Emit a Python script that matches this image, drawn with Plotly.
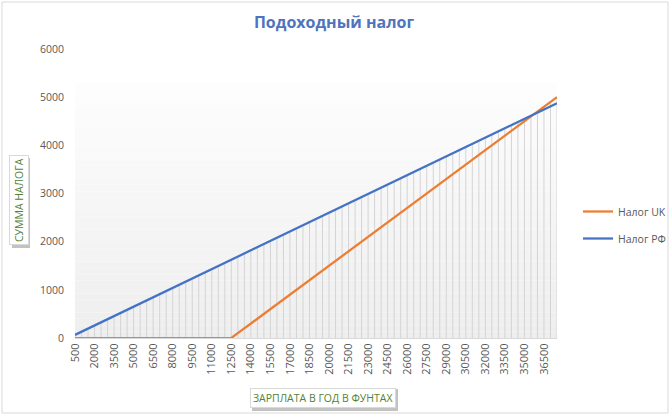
import plotly.graph_objects as go

salary = [500, 1000, 1500, 2000, 2500, 3000, 3500, 4000, 4500, 5000,
          5500, 6000, 6500, 7000, 7500, 8000, 8500, 9000, 9500, 10000,
          10500, 11000, 11500, 12000, 12500, 13000, 13500, 14000, 14500, 15000,
          15500, 16000, 16500, 17000, 17500, 18000, 18500, 19000, 19500, 20000,
          20500, 21000, 21500, 22000, 22500, 23000, 23500, 24000, 24500, 25000,
          25500, 26000, 26500, 27000, 27500, 28000, 28500, 29000, 29500, 30000,
          30500, 31000, 31500, 32000, 32500, 33000, 33500, 34000, 34500, 35000,
          35500, 36000, 36500, 37000, 37500]

tax_uk = [0, 0, 0, 0, 0, 0, 0, 0, 0, 0,
          0, 0, 0, 0, 0, 0, 0, 0, 0, 0,
          0, 0, 0, 0, 0, 100, 200, 300, 400, 500,
          600, 700, 800, 900, 1000, 1100, 1200, 1300, 1400, 1500,
          1600, 1700, 1800, 1900, 2000, 2100, 2200, 2300, 2400, 2500,
          2600, 2700, 2800, 2900, 3000, 3100, 3200, 3300, 3400, 3500,
          3600, 3700, 3800, 3900, 4000, 4100, 4200, 4300, 4400, 4500,
          4600, 4700, 4800, 4900, 5000]

tax_rf = [65, 130, 195, 260, 325, 390, 455, 520, 585, 650,
          715, 780, 845, 910, 975, 1040, 1105, 1170, 1235, 1300,
          1365, 1430, 1495, 1560, 1625, 1690, 1755, 1820, 1885, 1950,
          2015, 2080, 2145, 2210, 2275, 2340, 2405, 2470, 2535, 2600,
          2665, 2730, 2795, 2860, 2925, 2990, 3055, 3120, 3185, 3250,
          3315, 3380, 3445, 3510, 3575, 3640, 3705, 3770, 3835, 3900,
          3965, 4030, 4095, 4160, 4225, 4290, 4355, 4420, 4485, 4550,
          4615, 4680, 4745, 4810, 4875]

tick_labels = ["500", "2000", "3500", "5000", "6500", "8000", "9500", "11000",
               "12500", "14000", "15500", "17000", "18500", "20000", "21500",
               "23000", "24500", "26000", "27500", "29000", "30500", "32000",
               "33500", "35000", "36500"]

y_ticks = [0, 1000, 2000, 3000, 4000, 5000, 6000]

cats = [str(s) for s in salary]

# drop lines from the higher series down to the axis
dx, dy = [], []
for c, u, r in zip(cats, tax_uk, tax_rf):
    dx += [c, c, None]
    dy += [0, max(u, r), None]

fig = go.Figure()
fig.add_trace(go.Scatter(x=dx, y=dy, mode="lines",
                         line=dict(color="#d4d4d4", width=1),
                         showlegend=False, hoverinfo="skip"))
fig.add_trace(go.Scatter(x=cats, y=tax_uk, mode="lines", name="Налог UK",
                         line=dict(color="#ED7D31", width=2.25),
                         legendgroup="a"))
fig.add_trace(go.Scatter(x=cats, y=tax_rf, mode="lines", name="Налог РФ",
                         line=dict(color="#4472C4", width=2.25),
                         legendgroup="b"))

# gradient background (plot area) via stripes
shapes = []
n = 40
top = 5300
for i in range(n):
    y0 = top * i / n
    y1 = top * (i + 1) / n
    t = i / (n - 1)
    v = int(round(238 + (253 - 238) * t))
    col = f"rgb({v},{v},{v})"
    shapes.append(dict(type="rect", xref="x domain", yref="y",
                       x0=0, x1=1, y0=y0, y1=y1, line=dict(width=0),
                       fillcolor=col, layer="below"))

# outer chart border
shapes.append(dict(type="rect", xref="paper", yref="paper",
                   x0=(2 - 75) / 482, x1=(668 - 75) / 482,
                   y0=(338 - 413) / 289, y1=(338 - 2) / 289,
                   line=dict(color="#d9d9d9", width=1), fillcolor="rgba(0,0,0,0)"))

# shadows for axis title boxes
shapes.append(dict(type="rect", xref="paper", yref="paper",
                   x0=(12 - 75) / 482, x1=(30 - 75) / 482,
                   y0=(338 - 248) / 289, y1=(338 - 158) / 289,
                   line=dict(width=0), fillcolor="rgba(120,120,120,0.45)"))
shapes.append(dict(type="rect", xref="paper", yref="paper",
                   x0=(252 - 75) / 482, x1=(398 - 75) / 482,
                   y0=(338 - 411) / 289, y1=(338 - 389) / 289,
                   line=dict(width=0), fillcolor="rgba(120,120,120,0.45)"))

annotations = [
    dict(text="СУММА НАЛОГА", xref="paper", yref="paper",
         x=(19 - 75) / 482, y=(338 - 200) / 289, textangle=-90,
         showarrow=False, font=dict(family="Open Sans", size=10.5, color="#548235"),
         bgcolor="white", bordercolor="#d9d9d9", borderwidth=1, borderpad=2,
         xanchor="center", yanchor="middle"),
    dict(text="ЗАРПЛАТА В ГОД В ФУНТАХ", xref="paper", yref="paper",
         x=(323 - 75) / 482, y=(338 - 398) / 289,
         showarrow=False, font=dict(family="Open Sans", size=10.5, color="#548235"),
         bgcolor="white", bordercolor="#d9d9d9", borderwidth=1, borderpad=2,
         xanchor="center", yanchor="middle"),
]

fig.update_layout(
    width=672, height=417,
    margin=dict(l=75, r=115, t=49, b=79, autoexpand=False),
    paper_bgcolor="white", plot_bgcolor="white",
    title=dict(text="<b>Подоходный налог</b>", x=(334) / 672, xanchor="center",
               y=1 - 22 / 417, yanchor="middle",
               font=dict(family="Open Sans", size=16, color="#4E74BD")),
    xaxis=dict(type="category", range=[0, len(cats) - 1],
               tickmode="array", tickvals=tick_labels, ticktext=tick_labels,
               tickangle=-90, showgrid=False, zeroline=False, automargin=False,
               showline=True, linecolor="#d9d9d9", linewidth=1,
               ticks="", tickfont=dict(family="Open Sans", size=11, color="#595959")),
    yaxis=dict(range=[0, 6000], tickvals=y_ticks, showgrid=False, zeroline=False,
               showline=False, ticks="", ticklabelstandoff=10, automargin=False,
               tickfont=dict(family="Open Sans", size=10.5, color="#595959")),
    legend=dict(x=(578 - 75) / 482, y=(338 - 225) / 289, xanchor="left", yanchor="middle",
                traceorder="grouped", tracegroupgap=8, itemwidth=30,
                font=dict(family="Open Sans", size=10.5, color="#595959"),
                bgcolor="rgba(0,0,0,0)"),
    shapes=shapes,
    annotations=annotations,
    showlegend=True,
)

fig.write_html("out.html",
               config={"displayModeBar": False},
               post_script="document.body.style.margin='0';"
                           "document.body.style.overflow='hidden';")
